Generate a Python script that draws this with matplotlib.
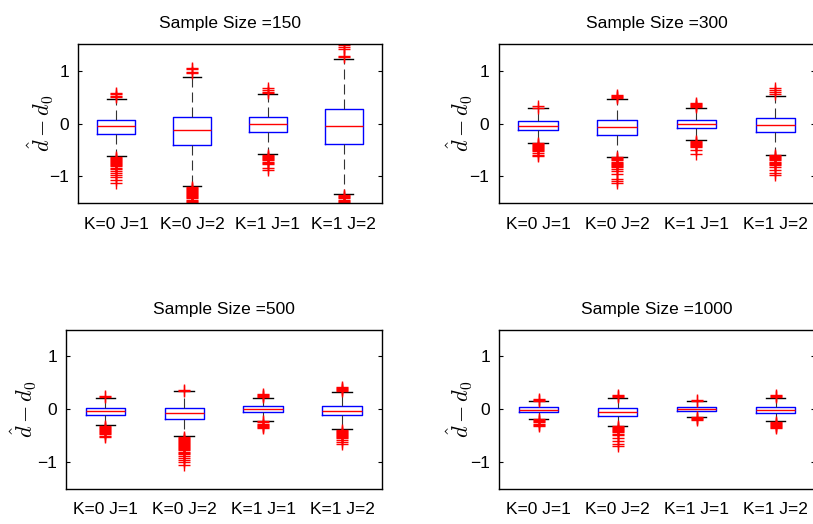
import matplotlib
matplotlib.use("Agg")
import matplotlib.pyplot as plt

plt.rcParams['font.family'] = ['Liberation Sans', 'DejaVu Sans']
plt.rcParams['mathtext.fontset'] = 'cm'

categories = ['K=0 J=1', 'K=0 J=2', 'K=1 J=1', 'K=1 J=2']
sample_sizes = [150, 300, 500, 1000]

# ---- Sample size 150 ----
med_150 = [-0.05, -0.12, -0.01, -0.04]
q1_150 = [-0.20, -0.40, -0.16, -0.38]
q3_150 = [0.07, 0.12, 0.13, 0.27]
lo_150 = [-0.61, -1.18, -0.58, -1.34]
hi_150 = [0.47, 0.89, 0.56, 1.22]
fliers_150 = [
    [0.50, 0.52, 0.55, 0.58,
     -0.63, -0.65, -0.67, -0.69, -0.71, -0.73, -0.75, -0.77, -0.79, -0.81,
     -0.84, -0.87, -0.90, -0.94, -0.98, -1.02, -1.07, -1.12],
    [0.95, 0.97, 1.04, 1.06,
     -1.20, -1.22, -1.24, -1.26, -1.28, -1.30, -1.32, -1.34, -1.36, -1.38,
     -1.40, -1.42, -1.44, -1.46, -1.48, -1.50, -1.53, -1.56],
    [0.57, 0.59, 0.64, 0.67,
     -0.60, -0.62, -0.64, -0.66, -0.68, -0.70, -0.72, -0.74, -0.76, -0.85, -0.88],
    [1.25, 1.28, 1.42, 1.45, 1.48,
     -1.36, -1.38, -1.40, -1.42, -1.44, -1.46, -1.48, -1.50, -1.53, -1.56],
]

# ---- Sample size 300 ----
med_300 = [-0.04, -0.07, -0.01, -0.03]
q1_300 = [-0.12, -0.22, -0.09, -0.17]
q3_300 = [0.04, 0.06, 0.07, 0.10]
lo_300 = [-0.36, -0.63, -0.32, -0.59]
hi_300 = [0.29, 0.47, 0.30, 0.53]
fliers_300 = [
    [0.30, 0.33,
     -0.37, -0.39, -0.41, -0.43, -0.45, -0.47, -0.49, -0.51, -0.53, -0.56, -0.59, -0.62],
    [0.48, 0.50, 0.52, 0.54,
     -0.64, -0.66, -0.68, -0.70, -0.72, -0.74, -0.76, -0.78, -0.80, -0.82,
     -0.86, -0.90, -0.95, -1.05, -1.08, -1.12],
    [0.31, 0.33, 0.35, 0.37, 0.39,
     -0.33, -0.35, -0.37, -0.39, -0.41, -0.43, -0.45, -0.50, -0.57],
    [0.56, 0.60, 0.64, 0.68,
     -0.60, -0.62, -0.64, -0.66, -0.68, -0.70, -0.72, -0.74, -0.76, -0.78,
     -0.83, -0.88, -0.93, -0.97],
]

# ---- Sample size 500 ----
med_500 = [-0.04, -0.08, 0.00, -0.03]
q1_500 = [-0.11, -0.19, -0.06, -0.11]
q3_500 = [0.03, 0.02, 0.06, 0.07]
lo_500 = [-0.30, -0.50, -0.22, -0.38]
hi_500 = [0.22, 0.34, 0.22, 0.33]
fliers_500 = [
    [0.23, 0.25,
     -0.31, -0.33, -0.35, -0.37, -0.39, -0.41, -0.43, -0.45, -0.47, -0.50, -0.53],
    [0.35, 0.37,
     -0.52, -0.54, -0.56, -0.58, -0.60, -0.62, -0.64, -0.66, -0.68, -0.70,
     -0.72, -0.74, -0.76, -0.78, -0.80, -0.82, -0.84, -0.88, -0.92, -0.96,
     -1.00, -1.05],
    [0.23, 0.25, 0.27, 0.29,
     -0.23, -0.25, -0.27, -0.29, -0.31, -0.33, -0.36],
    [0.34, 0.36, 0.38, 0.40, 0.42,
     -0.39, -0.41, -0.43, -0.45, -0.47, -0.49, -0.51, -0.53, -0.55,
     -0.59, -0.62, -0.65],
]

# ---- Sample size 1000 ----
med_1000 = [-0.01, -0.05, 0.00, -0.01]
q1_1000 = [-0.06, -0.12, -0.04, -0.08]
q3_1000 = [0.04, 0.02, 0.04, 0.04]
lo_1000 = [-0.18, -0.31, -0.14, -0.23]
hi_1000 = [0.15, 0.22, 0.15, 0.22]
fliers_1000 = [
    [0.16, 0.18, 0.20,
     -0.19, -0.21, -0.23, -0.25, -0.27, -0.30, -0.32],
    [0.23, 0.25, 0.27,
     -0.32, -0.34, -0.36, -0.38, -0.40, -0.42, -0.44, -0.46, -0.48,
     -0.55, -0.61, -0.66, -0.70],
    [0.16, 0.18,
     -0.15, -0.17, -0.19, -0.21],
    [0.23, 0.25, 0.27,
     -0.24, -0.26, -0.28, -0.30, -0.32, -0.34, -0.36],
]

panels = [
    (med_150, q1_150, q3_150, lo_150, hi_150, fliers_150),
    (med_300, q1_300, q3_300, lo_300, hi_300, fliers_300),
    (med_500, q1_500, q3_500, lo_500, hi_500, fliers_500),
    (med_1000, q1_1000, q3_1000, lo_1000, hi_1000, fliers_1000),
]

W, H = 813, 524
fig = plt.figure(figsize=(W / 100, H / 100), dpi=100)

# axes rectangles in pixels: left, top, right, bottom ; ylabel offset px
rects_px = [
    (78.3, 44.3, 381.5, 202.7, 22),
    (498.5, 44.3, 815.0, 202.7, 24),
    (66.0, 330.0, 381.5, 488.5, 27),
    (499.0, 330.0, 815.0, 488.5, 24),
]

for (l, t, r, b, yoff), n, (med, q1, q3, lo, hi, fl) in zip(rects_px, sample_sizes, panels):
    ax = fig.add_axes([l / W, (H - b) / H, (r - l) / W, (b - t) / H])
    stats = []
    for i in range(len(categories)):
        stats.append(dict(med=med[i], q1=q1[i], q3=q3[i], whislo=lo[i],
                          whishi=hi[i], fliers=fl[i], label=categories[i]))
    ax.bxp(stats, positions=[1, 2, 3, 4], widths=0.5, capwidths=0.25,
           showfliers=True,
           boxprops=dict(color='blue', linewidth=1.0),
           medianprops=dict(color='red', linewidth=1.0),
           whiskerprops=dict(color='#333333', linewidth=0.8, linestyle=(0, (9, 4.5))),
           capprops=dict(color='black', linewidth=1.0),
           flierprops=dict(marker='+', markeredgecolor='red', markerfacecolor='none',
                           markersize=9, markeredgewidth=1.0, linestyle='none'))
    ax.set_xlim(0.5, 4.5)
    ax.set_ylim(-1.5, 1.5)
    ax.set_yticks([-1, 0, 1])
    ax.set_yticklabels(['\u22121', '0', '1'])
    ax.tick_params(axis='y', direction='in', left=True, right=True, length=3,
                   width=0.8, labelsize=12.5, pad=6.5)
    ax.tick_params(axis='x', length=0, labelsize=12.5, pad=10)
    for s in ax.spines.values():
        s.set_linewidth(1.0)
    ax.set_title('Sample Size =%d' % n, fontsize=12.5, pad=11.5)
    ax.set_ylabel(r'$\hat{d} - d_0$', fontsize=16)
    ax.yaxis.set_label_coords(-yoff / (r - l), 0.5)

fig.savefig('out.png', dpi=100)
